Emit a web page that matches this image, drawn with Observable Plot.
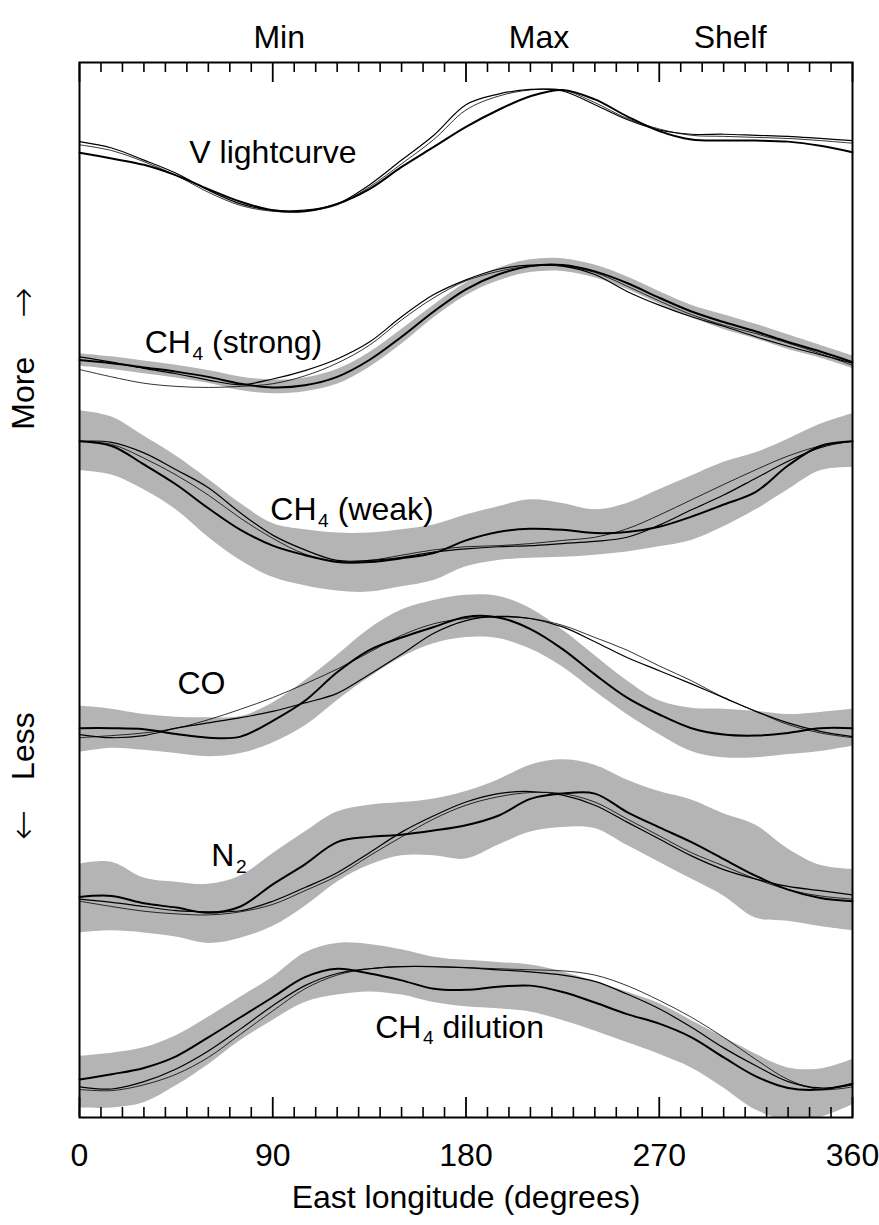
<!DOCTYPE html>
<html><head><meta charset="utf-8">
<script src="https://cdn.jsdelivr.net/npm/d3@7"></script>
<script src="https://cdn.jsdelivr.net/npm/@observablehq/plot@0.6"></script>
<style>body{margin:0;background:#fff}</style>
</head><body><div id="chart"></div>
<script>
// East longitude samples (degrees)
const lon = [0,15,30,45,60,75,90,105,120,135,150,165,180,195,210,225,240,255,270,285,300,315,330,345,360];

// Relative signal (arbitrary offset units)
const vThick  = [91.45,90.9,90.3,89.3,88.0,86.8,86.0,85.9,86.6,88.0,90.1,92.0,93.9,95.5,96.8,97.4,96.5,94.9,93.5,92.7,92.6,92.6,92.5,92.1,91.5];
const vThin1  = [92.5,91.9,90.75,89.5,87.9,86.6,86.0,86.0,86.6,88.4,90.75,93.1,96.0,97.0,97.45,97.3,96.0,94.6,93.6,93.2,93.2,93.1,93.0,92.8,92.6];
const vThin2  = [92.2,91.65,90.6,89.3,87.7,86.45,85.9,85.9,86.5,88.2,90.4,92.7,95.5,96.8,97.4,97.4,96.2,94.7,93.7,93.1,93.0,92.9,92.8,92.6,92.35];

const strongThick = [71.8,71.5,71.1,70.7,70.2,69.55,69.2,69.4,70.2,71.8,74.0,76.4,78.5,79.9,80.7,80.8,80.2,79.1,77.7,76.4,75.4,74.5,73.5,72.6,71.6];
const strongThin1 = [72.1,71.6,71.0,70.5,69.9,69.45,70.0,70.8,71.9,73.5,75.9,78.0,79.4,80.4,80.8,80.7,79.9,78.3,77.0,75.9,75.0,74.0,73.1,72.3,71.5];
const strongThin2 = [70.9,70.2,69.6,69.3,69.2,69.3,69.55,70.3,71.5,73.2,75.6,77.7,79.3,80.2,80.7,80.7,80.1,78.8,77.4,76.1,75.1,74.3,73.4,72.4,71.3];
const strongUpper = [72.4,72.1,71.7,71.3,70.8,70.2,69.9,70.1,70.9,72.5,74.7,77.0,79.1,80.5,81.3,81.4,80.8,79.7,78.3,77.0,76.1,75.2,74.2,73.2,72.2];
const strongLower = [71.2,70.9,70.5,70.1,69.6,68.9,68.6,68.8,69.5,71.1,73.3,75.8,77.9,79.3,80.1,80.2,79.6,78.5,77.1,75.8,74.7,73.8,72.8,72.0,71.0];

const weakThick = [64.1,63.65,61.9,60.0,57.75,55.7,54.2,53.3,52.65,52.65,53.0,53.5,54.7,55.5,55.8,55.7,55.4,55.5,56.0,56.95,58.1,59.3,61.8,63.65,64.1];
const weakThin1 = [64.1,64.0,63.0,61.4,59.7,57.3,55.2,53.8,52.8,52.8,53.1,53.6,53.9,54.1,54.2,54.4,54.6,55.0,56.15,57.6,59.0,60.6,62.2,63.5,64.1];
const weakThin2 = [64.1,63.8,62.5,60.9,59.0,56.8,54.9,53.4,52.7,52.8,53.3,53.8,54.1,54.2,54.4,54.7,55.0,55.8,57.1,58.55,60.0,61.4,62.7,63.65,64.1];
const weakUpper = [67.0,66.4,64.6,62.7,60.5,58.2,56.3,55.7,55.4,55.4,55.7,56.15,57.1,57.9,58.55,58.2,57.6,58.2,59.5,60.8,62.1,63.0,64.3,65.7,66.7];
const weakLower = [61.3,60.9,59.5,57.6,55.0,52.8,51.2,50.4,49.9,49.8,50.3,50.9,52.2,52.8,53.0,53.1,53.3,53.6,54.1,54.7,56.0,57.6,59.5,61.3,61.6];

const coThick = [36.9,36.9,36.8,36.35,36.0,36.1,37.6,39.5,42.2,44.3,45.5,46.5,47.45,47.4,46.3,44.4,42.0,39.8,38.2,36.9,36.3,36.2,36.45,36.9,36.9];
const coThin1 = [36.3,36.0,36.2,36.9,37.4,37.9,38.5,39.3,40.2,42.0,43.9,45.9,47.1,47.5,47.3,46.5,45.1,43.6,42.35,41.1,39.8,38.5,37.4,36.6,36.1];
const coThin2 = [36.0,36.2,36.45,36.9,37.7,38.7,39.8,41.1,42.5,44.1,45.7,46.8,47.3,47.45,47.3,46.65,45.5,44.3,42.8,41.4,39.8,38.5,37.25,36.45,36.0];
const coUpper = [39.0,38.7,38.2,37.95,37.9,38.0,39.3,41.4,43.8,46.3,48.1,49.0,49.5,49.4,48.25,46.2,43.8,41.4,39.5,38.8,38.7,38.5,38.2,38.4,38.7];
const coLower = [34.6,35.0,34.8,34.5,34.2,34.5,35.5,37.1,39.5,41.7,43.6,44.9,45.5,45.4,44.4,42.7,40.4,38.2,36.3,34.7,34.1,34.1,34.4,34.7,35.2];

const n2Thick = [20.9,21.0,20.3,19.9,19.4,20.0,22.1,24.0,26.1,26.6,26.8,27.2,27.7,28.6,30.2,30.7,30.7,28.95,27.5,26.1,24.5,22.9,21.6,20.8,20.5];
const n2Thin1 = [20.7,20.4,20.0,19.6,19.5,19.6,20.5,21.8,23.2,25.1,27.05,28.6,29.9,30.7,30.9,30.55,29.6,28.0,26.4,24.8,23.5,22.6,21.9,21.5,21.1];
const n2Thin2 = [20.5,20.0,19.55,19.3,19.2,19.5,20.2,21.5,22.9,24.8,26.6,28.3,29.6,30.4,30.8,30.7,29.9,28.3,26.7,25.1,23.85,22.6,21.6,21.0,20.7];
const n2Upper = [24.0,24.2,22.7,22.3,22.1,22.9,25.0,27.05,28.95,29.6,29.85,30.2,30.9,32.0,33.4,33.9,33.4,32.0,30.9,30.1,28.8,27.7,25.45,23.9,23.5];
const n2Lower = [17.5,17.7,17.5,17.1,16.5,17.0,18.1,20.0,22.3,23.9,24.8,24.8,24.5,25.8,27.05,27.5,27.4,25.8,24.2,22.6,21.0,18.9,18.6,18.1,17.7];

const dilThick = [3.6,4.1,4.7,5.8,7.6,9.5,11.4,13.3,14.1,13.65,13.0,12.2,12.1,12.4,12.5,11.9,10.9,9.8,8.9,7.6,5.7,3.9,2.8,2.65,3.2];
const dilThin1 = [2.9,2.7,3.4,4.6,6.3,8.4,10.6,12.5,13.65,14.1,14.3,14.3,14.2,14.0,13.8,13.5,12.9,11.7,10.3,8.55,6.6,4.9,3.4,2.8,3.1];
const dilThin2 = [2.65,2.55,3.1,4.1,5.7,7.9,10.1,12.2,13.5,14.1,14.3,14.3,14.2,14.1,14.0,13.9,13.5,12.5,11.1,9.5,7.6,5.5,3.6,2.65,2.9];
const dilUpper = [5.8,6.1,6.6,7.75,9.5,11.4,13.3,15.6,16.5,16.4,15.9,15.2,14.9,14.7,14.45,13.8,12.9,11.9,10.8,9.2,7.6,6.0,4.7,4.6,5.5];
const dilLower = [0.9,0.9,1.4,3.0,5.0,7.3,9.2,10.9,11.6,11.9,11.6,10.9,10.5,10.3,10.0,9.2,8.2,7.1,6.0,4.7,2.8,0.7,-0.3,0.0,1.2];

const seriesNames = ["V lightcurve", "CH4 (strong)", "CH4 (weak)", "CO", "N2", "CH4 dilution"];
const curveLabels = ["V lightcurve", "CH_4 (strong)", "CH_4 (weak)", "CO", "N_2", "CH_4 dilution"];
const topLabels = ["Min", "Max", "Shelf"];
const tickLabels = [0, 90, 180, 270, 360];
const minorTicks = [10,20,30,40,50,60,70,80,100,110,120,130,140,150,160,170,190,200,210,220,230,240,250,260,280,290,300,310,320,330,340,350];
const xTitle = "East longitude (degrees)";
const sideWords = ["More", "Less"];
const sideArrows = ["\u2192", "\u2190"];

const seriesData = [
  [vThick, vThin1, vThin2, null, null],
  [strongThick, strongThin1, strongThin2, strongUpper, strongLower],
  [weakThick, weakThin1, weakThin2, weakUpper, weakLower],
  [coThick, coThin1, coThin2, coUpper, coLower],
  [n2Thick, n2Thin1, n2Thin2, n2Upper, n2Lower],
  [dilThick, dilThin1, dilThin2, dilUpper, dilLower]
];
const rows = [];
seriesNames.forEach((name, s) => {
  const [t, a, b, u, l] = seriesData[s];
  lon.forEach((x, i) => rows.push({series: name, lon: x, thick: t[i], thin1: a[i], thin2: b[i],
    upper: u ? u[i] : null, lower: l ? l[i] : null}));
});

// label placement (data coordinates)
const labelPos = [[90.1, 91.45], [71.7, 73.4], [126.9, 57.6], [56.8, 41.1], [69.6, 24.8], [177, 8.55]];
const labelRows = curveLabels.map((t, i) => ({text: t, lon: labelPos[i][0], v: labelPos[i][1]}));
const topPos = [93, 214, 303];
const topRows = topLabels.map((t, i) => ({text: t, lon: topPos[i]}));
const wordRows = sideWords.map((t, i) => ({text: t, v: [65.2, 32.0][i]}));
const arrowRows = sideArrows.map((t, i) => ({text: t, v: [75.8, 26.3][i]}));

const W = 879, H = 1225, mL = 79, mR = 27, mT = 62, mB = 108;
const frameH = H - mT - mB;
const FONT = "'Liberation Sans', Arial, Helvetica, sans-serif";

const svg = Plot.plot({
  width: W, height: H,
  marginLeft: mL, marginRight: mR, marginTop: mT, marginBottom: mB,
  style: {fontFamily: FONT, fontSize: "32px", color: "black", background: "white", overflow: "visible"},
  x: {domain: [0, 360]},
  y: {domain: [0, 100], axis: null},
  marks: [
    Plot.areaY(rows.filter(d => d.upper != null), {x: "lon", y1: "lower", y2: "upper", z: "series",
      curve: "catmull-rom", fill: "#b4b4b4", clip: true}),
    Plot.line(rows, {x: "lon", y: "thin2", z: "series", curve: "catmull-rom", stroke: "black", strokeWidth: 0.8}),
    Plot.line(rows, {x: "lon", y: "thin1", z: "series", curve: "catmull-rom", stroke: "black", strokeWidth: 1.2}),
    Plot.line(rows, {x: "lon", y: "thick", z: "series", curve: "catmull-rom", stroke: "black", strokeWidth: 2}),
    Plot.tickX(minorTicks, {x: d => d, insetTop: frameH - 10, stroke: "black", strokeWidth: 1.6}),
    Plot.tickX(minorTicks, {x: d => d, insetBottom: frameH - 10, stroke: "black", strokeWidth: 1.6}),
    Plot.tickX(tickLabels, {x: d => d, insetTop: frameH - 20, stroke: "black", strokeWidth: 1.8}),
    Plot.tickX(tickLabels, {x: d => d, insetBottom: frameH - 20, stroke: "black", strokeWidth: 1.8}),
    Plot.frame({stroke: "black", strokeWidth: 2}),
    Plot.axisX(tickLabels, {anchor: "bottom", tickSize: 0, tickPadding: 26, fontSize: 32, label: null}),
    Plot.text([xTitle], {text: d => d, frameAnchor: "bottom", dy: 90, fontSize: 32}),
    Plot.text(topRows, {x: "lon", text: "text", frameAnchor: "top", dy: -37, fontSize: 32}),
    Plot.text(labelRows, {x: "lon", y: "v", text: "text", fontSize: 32}),
    Plot.text(wordRows, {y: "v", text: "text", frameAnchor: "left", dx: -56, rotate: -90, fontSize: 32}),
    Plot.text(arrowRows, {y: "v", text: "text", frameAnchor: "left", dx: -56, rotate: -90, fontSize: 36,
      fontFamily: "'DejaVu Sans', sans-serif", fontWeight: 300})
  ]
});

// render subscripts (e.g. CH_4 -> CH with subscript 4)
d3.select(svg).selectAll("text").each(function() {
  if (this.querySelector("tspan")) return;
  const t = this.textContent;
  const m = t.match(/^(.*?)_(\d)(.*)$/);
  if (!m) return;
  const el = d3.select(this);
  el.text(null);
  el.append("tspan").text(m[1]);
  el.append("tspan").attr("font-size", "0.6em").attr("dy", "0.35em").attr("dx", "0.08em").text(m[2]);
  el.append("tspan").attr("dy", "-0.21em").text(m[3]);
});

document.getElementById("chart").append(svg);
</script>
</body></html>
